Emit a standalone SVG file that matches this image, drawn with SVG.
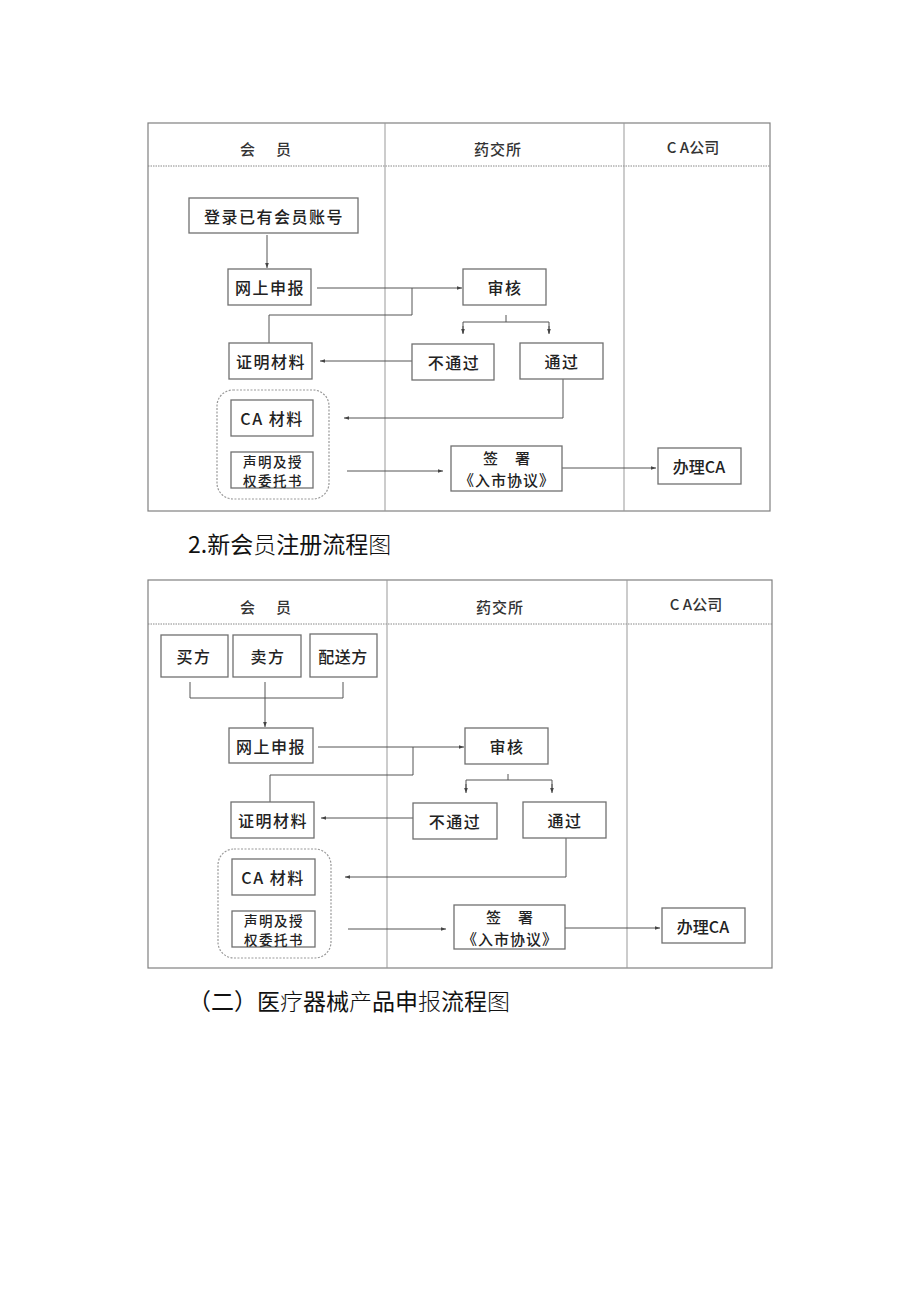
<svg xmlns="http://www.w3.org/2000/svg" width="920" height="1302" viewBox="0 0 920 1302">
<style>
.frame{fill:none;stroke:#808080;stroke-width:1.2}
.hline{fill:none;stroke:#888;stroke-width:1;stroke-dasharray:1.5 1}
.lane{fill:none;stroke:#999;stroke-width:1}
.box{fill:#fff;stroke:#707070;stroke-width:1.3}
.grp{fill:none;stroke:#999;stroke-width:1.2;stroke-dasharray:2 1.5}
.c{fill:none;stroke:#555;stroke-width:1}
.t{font-family:"Noto Sans CJK SC","Liberation Sans",sans-serif;font-size:16px;font-weight:500;fill:#222;text-anchor:middle;dominant-baseline:central;letter-spacing:1.5px}
.h{font-family:"Noto Sans CJK SC","Liberation Sans",sans-serif;font-size:15px;font-weight:500;fill:#333;text-anchor:middle;dominant-baseline:central}
.s{font-family:"Noto Sans CJK SC","Liberation Sans",sans-serif;font-size:13.5px;font-weight:500;fill:#222;text-anchor:middle;dominant-baseline:central;letter-spacing:1.5px}
.s2{font-family:"Noto Sans CJK SC","Liberation Sans",sans-serif;font-size:15px;font-weight:500;fill:#222;text-anchor:middle;dominant-baseline:central;letter-spacing:1px}
.title{font-family:"Noto Sans CJK SC","Liberation Sans",sans-serif;font-size:23px;font-weight:400;fill:#111}
.lt{font-weight:300}
</style>
<defs>
<marker id="ah" viewBox="0 0 6 6" refX="6" refY="3" markerWidth="5" markerHeight="5" orient="auto" markerUnits="userSpaceOnUse">
<path d="M0,0.8 L6,3 L0,5.2 z" fill="#444"/>
</marker>
</defs>

<!-- Diagram 1 frame -->
<g id="frame1">
<rect class="frame" x="148" y="123" width="622" height="388"/>
<line class="hline" x1="148" y1="166" x2="770" y2="166"/>
<line class="lane" x1="385" y1="123" x2="385" y2="511"/>
<line class="lane" x1="624" y1="123" x2="624" y2="511"/>
<text class="h" x="267" y="148" style="letter-spacing:3px">会　员</text>
<text class="h" x="498" y="148" style="letter-spacing:1px">药交所</text>
<text class="h" x="693" y="146">C A公司</text>
</g>

<g id="connectors1">
<line class="c" x1="267" y1="235" x2="267" y2="268" marker-end="url(#ah)"/>
<line class="c" x1="317" y1="288" x2="462" y2="288" marker-end="url(#ah)"/>
<polyline class="c" points="412,288 412,315 269,315 269,343"/>
<line class="c" x1="506" y1="315" x2="506" y2="322"/>
<polyline class="c" points="463,333 463,322 549,322 549,333"/>
<line class="c" x1="463" y1="326" x2="463" y2="334" marker-end="url(#ah)"/>
<line class="c" x1="549" y1="326" x2="549" y2="334" marker-end="url(#ah)"/>
<line class="c" x1="412" y1="361" x2="320" y2="361" marker-end="url(#ah)"/>
<polyline class="c" points="563,379 563,418 344,418" marker-end="url(#ah)"/>
<line class="c" x1="347" y1="471" x2="443" y2="471" marker-end="url(#ah)"/>
<line class="c" x1="562" y1="468" x2="656" y2="468" marker-end="url(#ah)"/>
</g>

<g id="n1_login"><rect class="box" x="189" y="198" width="169" height="35"/><text class="t" x="274" y="216">登录已有会员账号</text></g>
<g id="n1_online"><rect class="box" x="228" y="269" width="83" height="36"/><text class="t" x="270" y="287">网上申报</text></g>
<g id="n1_review"><rect class="box" x="463" y="269" width="83" height="36"/><text class="t" x="505" y="287">审核</text></g>
<g id="n1_proof"><rect class="box" x="229" y="343" width="83" height="36"/><text class="t" x="271" y="361">证明材料</text></g>
<g id="n1_fail"><rect class="box" x="412" y="344" width="82" height="36"/><text class="t" x="454" y="362">不通过</text></g>
<g id="n1_pass"><rect class="box" x="520" y="343" width="83" height="36"/><text class="t" x="562" y="361">通过</text></g>
<g id="n1_group"><rect class="grp" x="217" y="390" width="112" height="109" rx="16"/></g>
<g id="n1_ca"><rect class="box" x="231" y="400" width="82" height="36"/><text class="t" x="272" y="418">CA 材料</text></g>
<g id="n1_decl"><rect class="box" x="231" y="452" width="82" height="36"/><text class="s" x="273" y="460.5">声明及授</text><text class="s" x="273" y="480.3">权委托书</text></g>
<g id="n1_sign"><rect class="box" x="451" y="446" width="111" height="45"/><text class="s2" x="507" y="457.5">签　署</text><text class="s2" x="507" y="479.5">《入市协议》</text></g>
<g id="n1_ca2"><rect class="box" x="658" y="448" width="83" height="36"/><text class="t" x="699" y="466" style="letter-spacing:0">办理CA</text></g>

<text class="title" x="188" y="553">2.新会<tspan class="lt">员</tspan>注册流程<tspan class="lt">图</tspan></text>

<!-- Diagram 2 frame -->
<g id="frame2">
<rect class="frame" x="148" y="580" width="624" height="388"/>
<line class="hline" x1="148" y1="624" x2="772" y2="624"/>
<line class="lane" x1="387" y1="580" x2="387" y2="968"/>
<line class="lane" x1="627" y1="580" x2="627" y2="968"/>
<text class="h" x="267" y="606" style="letter-spacing:3px">会　员</text>
<text class="h" x="500" y="606" style="letter-spacing:1px">药交所</text>
<text class="h" x="696" y="603">C A公司</text>
</g>

<g id="connectors2">
<polyline class="c" points="190,682 190,698 343,698 343,682"/>
<line class="c" x1="265" y1="682" x2="265" y2="698"/>
<line class="c" x1="265" y1="698" x2="265" y2="727" marker-end="url(#ah)"/>
<line class="c" x1="318" y1="747" x2="464" y2="747" marker-end="url(#ah)"/>
<polyline class="c" points="413,747 413,775 270,775 270,802"/>
<line class="c" x1="508" y1="774" x2="508" y2="780"/>
<polyline class="c" points="466,791 466,780 552,780 552,791"/>
<line class="c" x1="466" y1="784" x2="466" y2="793" marker-end="url(#ah)"/>
<line class="c" x1="552" y1="784" x2="552" y2="793" marker-end="url(#ah)"/>
<line class="c" x1="413" y1="818" x2="321" y2="818" marker-end="url(#ah)"/>
<polyline class="c" points="566,838 566,877 345,877" marker-end="url(#ah)"/>
<line class="c" x1="348" y1="929" x2="446" y2="929" marker-end="url(#ah)"/>
<line class="c" x1="565" y1="928" x2="660" y2="928" marker-end="url(#ah)"/>
</g>

<g id="n2_buyer"><rect class="box" x="161" y="635" width="67" height="42"/><text class="t" x="194" y="656">买方</text></g>
<g id="n2_seller"><rect class="box" x="233" y="635" width="68" height="42"/><text class="t" x="268" y="656">卖方</text></g>
<g id="n2_dist"><rect class="box" x="310" y="634" width="67" height="43"/><text class="t" x="343" y="656" style="letter-spacing:0.5px">配送方</text></g>
<g id="n2_online"><rect class="box" x="229" y="728" width="84" height="35"/><text class="t" x="271" y="746">网上申报</text></g>
<g id="n2_review"><rect class="box" x="465" y="728" width="83" height="36"/><text class="t" x="507" y="746">审核</text></g>
<g id="n2_proof"><rect class="box" x="231" y="802" width="83" height="36"/><text class="t" x="273" y="820">证明材料</text></g>
<g id="n2_fail"><rect class="box" x="413" y="803" width="84" height="36"/><text class="t" x="455" y="821">不通过</text></g>
<g id="n2_pass"><rect class="box" x="523" y="802" width="83" height="36"/><text class="t" x="565" y="820">通过</text></g>
<g id="n2_group"><rect class="grp" x="218" y="849" width="113" height="109" rx="16"/></g>
<g id="n2_ca"><rect class="box" x="232" y="859" width="83" height="36"/><text class="t" x="273" y="877">CA 材料</text></g>
<g id="n2_decl"><rect class="box" x="232" y="911" width="83" height="36"/><text class="s" x="274" y="919.5">声明及授</text><text class="s" x="274" y="939.3">权委托书</text></g>
<g id="n2_sign"><rect class="box" x="454" y="905" width="111" height="44"/><text class="s2" x="510" y="916.5">签　署</text><text class="s2" x="510" y="938.5">《入市协议》</text></g>
<g id="n2_ca2"><rect class="box" x="662" y="908" width="83" height="35"/><text class="t" x="703" y="926" style="letter-spacing:0">办理CA</text></g>

<text class="title" x="188" y="1010">（二）医<tspan class="lt">疗</tspan>器械<tspan class="lt">产</tspan>品申<tspan class="lt">报</tspan>流程<tspan class="lt">图</tspan></text>
</svg>
